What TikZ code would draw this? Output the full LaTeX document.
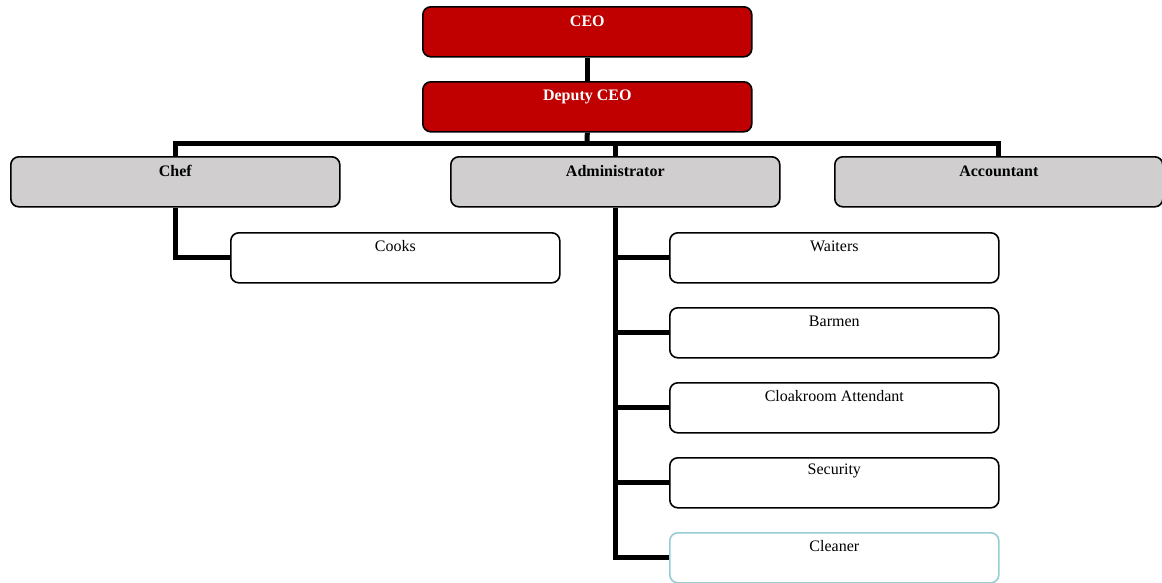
\documentclass[tikz,border=0pt]{standalone}
\usepackage{fontspec}
\setmainfont{Liberation Serif}
\definecolor{boxred}{RGB}{192,0,0}
\definecolor{boxgray}{RGB}{208,206,206}
\definecolor{cleanerline}{RGB}{150,205,212}
\tikzset{
  orgbox/.style={draw=black, line width=1.6pt, rounded corners=8pt, minimum width=329pt, minimum height=50pt, inner sep=0pt, anchor=north west},
  redbox/.style={orgbox, fill=boxred},
  graybox/.style={orgbox, fill=boxgray},
  whitebox/.style={orgbox, fill=white},
  ghostbox/.style={orgbox, draw=none, fill=none},
  wire/.style={line width=5pt, line join=miter, draw=black},
  boldlabel/.style={font=\fontsize{16}{18}\selectfont\bfseries},
  plainlabel/.style={font=\fontsize{16}{18}\selectfont},
}
\begin{document}
\begin{tikzpicture}[x=1pt,y=-1pt]
\useasboundingbox (0,0) rectangle (1162,582);
\coordinate (bus) at (587,143);
\path node[ghostbox] (ceo) at (422,6) {}
      node[ghostbox] (dep) at (422,81) {}
      node[ghostbox] (chef) at (10,156) {}
      node[ghostbox] (admin) at (450,156) {}
      node[ghostbox, minimum width=328pt] (acct) at (834,156) {}
      node[ghostbox] (cooks) at (230,232) {}
      node[ghostbox] (waiters) at (669,232) {}
      node[ghostbox] (barmen) at (669,307) {}
      node[ghostbox] (cloak) at (669,382) {}
      node[ghostbox] (security) at (669,457) {}
      node[ghostbox] (cleaner) at (669,532) {};
% wires
\draw[wire] (ceo.south) -- (dep.north);
\draw[wire] (dep.south) -- (bus);
\draw[wire] (chef.north) |- (bus) -| (acct.north);
\draw[wire] (bus) -| (admin.north);
\draw[wire] (chef.south) |- (cooks.west);
\draw[wire] (admin.south) |- (cleaner.west);
\draw[wire] (admin.south) |- (waiters.west);
\draw[wire] (admin.south) |- (barmen.west);
\draw[wire] (admin.south) |- (cloak.west);
\draw[wire] (admin.south) |- (security.west);
% boxes
\node[redbox] at (ceo.north west) {};
\node[redbox] at (dep.north west) {};
\node[graybox] at (chef.north west) {};
\node[graybox] at (admin.north west) {};
\node[graybox, minimum width=328pt] at (acct.north west) {};
\node[whitebox] at (cooks.north west) {};
\node[whitebox] at (waiters.north west) {};
\node[whitebox] at (barmen.north west) {};
\node[whitebox] at (cloak.north west) {};
\node[whitebox] at (security.north west) {};
\node[whitebox, draw=cleanerline] at (cleaner.north west) {};
% labels
\node[boldlabel, text=white] at ([yshift=-15pt]ceo.north) {CEO};
\node[boldlabel, text=white] at ([yshift=-16pt]dep.north) {Deputy CEO};
\node[boldlabel] at ([yshift=-15pt]chef.north) {Chef};
\node[boldlabel] at ([yshift=-15pt]admin.north) {Administrator};
\node[boldlabel] at ([yshift=-15pt]acct.north) {Accountant};
\node[plainlabel] at ([yshift=-14pt]cooks.north) {Cooks};
\node[plainlabel] at ([yshift=-14pt]waiters.north) {Waiters};
\node[plainlabel] at ([yshift=-14pt]barmen.north) {Barmen};
\node[plainlabel] at ([yshift=-14pt]cloak.north) {Cloakroom Attendant};
\node[plainlabel] at ([yshift=-14pt]security.north) {Security};
\node[plainlabel] at ([yshift=-14pt]cleaner.north) {Cleaner};
\end{tikzpicture}
\end{document}
